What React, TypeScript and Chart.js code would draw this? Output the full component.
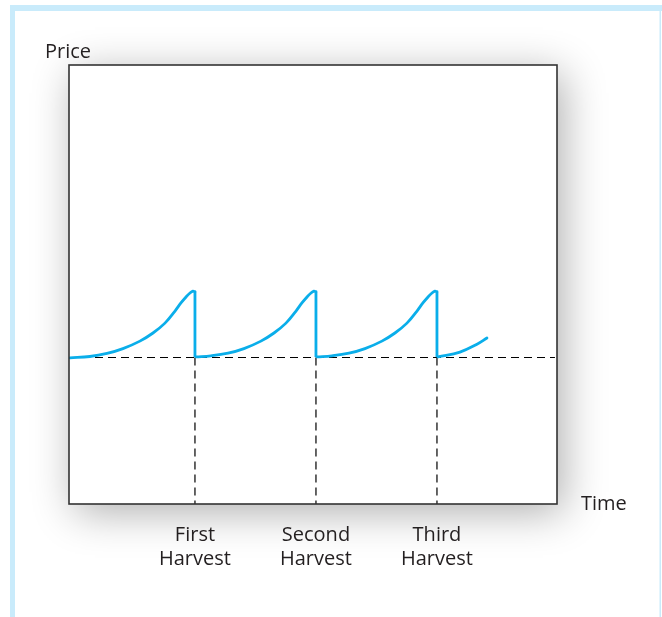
import React, { useEffect, useRef } from "react";
import { Chart, registerables } from "chart.js";

Chart.register(...registerables);

// ---- data (time in harvest periods, price in arbitrary units) ----
const X_MIN = -0.041;
const X_MAX = 3.992;
const Y_MIN = 0;
const Y_MAX = 100;
const BASE_PRICE = 33.37;

const HARVEST_TIMES = [1, 2, 3];
const HARVEST_LABELS = [["First", "Harvest"], ["Second", "Harvest"], ["Third", "Harvest"]];

const cycle1X = [-0.033, 0.132, 0.273, 0.405, 0.545, 0.653, 0.752, 0.835, 0.884, 0.926, 0.959, 0.983, 1.0];
const cycle1Y = [33.3, 33.6, 34.3, 35.4, 37.1, 38.95, 41.2, 43.96, 45.79, 47.16, 48.06, 48.47, 48.36];
const cycle2X = [1.008, 1.132, 1.273, 1.405, 1.545, 1.653, 1.752, 1.835, 1.884, 1.926, 1.959, 1.983, 2.0];
const cycle2Y = [33.5, 33.75, 34.35, 35.4, 37.1, 38.95, 41.2, 43.96, 45.79, 47.16, 48.06, 48.47, 48.36];
const cycle3X = [2.008, 2.132, 2.273, 2.405, 2.545, 2.653, 2.752, 2.835, 2.884, 2.926, 2.959, 2.983, 3.0];
const cycle3Y = [33.5, 33.75, 34.35, 35.4, 37.1, 38.95, 41.2, 43.96, 45.79, 47.16, 48.06, 48.47, 48.36];
const tailX = [3.008, 3.19, 3.331, 3.413];
const tailY = [33.5, 34.6, 36.4, 37.8];
const dropTop = 48.36;
const dropBottom = 33.5;
const BASELINE_END_X = 3.975;

const Y_AXIS_LABEL = "Price";
const X_AXIS_LABEL = "Time";

const CURVE_COLOR = "#0aaeea";
const DASH_COLOR = "#000000";
const TEXT_COLOR = "#231f20";
const FRAME_COLOR = "#c9ebfb";
const FONT = "'Open Sans', 'Noto Sans', sans-serif";

const toPts = (xs: number[], ys: number[]) => xs.map((x, i) => ({ x, y: ys[i] }));

const decorPlugin = {
  id: "decor",
  beforeDraw(chart: any) {
    const { ctx, chartArea: a, width, height } = chart;
    ctx.save();
    ctx.fillStyle = "#ffffff";
    ctx.fillRect(0, 0, width, height);
    // light blue page frame
    ctx.fillStyle = FRAME_COLOR;
    ctx.fillRect(10, 5, width - 10, 6);
    ctx.fillRect(10, 5, 5, height - 5);
    ctx.fillRect(659.5, 11, 1.5, height - 11);
    // box with shadow
    ctx.shadowColor = "rgba(0,0,0,0.32)";
    ctx.shadowBlur = 40;
    ctx.shadowOffsetX = 6;
    ctx.shadowOffsetY = 8;
    ctx.fillStyle = "#ffffff";
    ctx.fillRect(a.left, a.top, a.right - a.left, a.bottom - a.top);
    ctx.restore();
  },
  afterDraw(chart: any) {
    const { ctx, chartArea: a } = chart;
    ctx.save();
    ctx.strokeStyle = "#333333";
    ctx.lineWidth = 1.6;
    ctx.strokeRect(a.left, a.top, a.right - a.left, a.bottom - a.top);
    ctx.fillStyle = TEXT_COLOR;
    ctx.font = `20px ${FONT}`;
    ctx.textAlign = "left";
    ctx.textBaseline = "alphabetic";
    ctx.fillText(Y_AXIS_LABEL, 45, 58);
    ctx.fillText(X_AXIS_LABEL, 581, 510);
    ctx.restore();
  },
};

export default function App() {
  const ref = useRef<HTMLCanvasElement | null>(null);
  useEffect(() => {
    if (!ref.current) return;
    const curve = (data: any[]) => ({
      data,
      borderColor: CURVE_COLOR,
      borderWidth: 2.8,
      pointRadius: 0,
      tension: 0.4,
      borderCapStyle: "round" as const,
      borderJoinStyle: "round" as const,
      fill: false,
      order: 1,
    });
    const straight = (data: any[]) => ({
      data,
      borderColor: CURVE_COLOR,
      borderWidth: 2.8,
      pointRadius: 0,
      tension: 0,
      borderCapStyle: "butt" as const,
      fill: false,
      order: 1,
    });
    const dashed = (data: any[]) => ({
      data,
      borderColor: DASH_COLOR,
      borderWidth: 1.2,
      borderDash: [8, 5],
      pointRadius: 0,
      tension: 0,
      fill: false,
      order: 2,
    });
    const datasets: any[] = [
      dashed([{ x: X_MIN, y: BASE_PRICE }, { x: BASELINE_END_X, y: BASE_PRICE }]),
      ...HARVEST_TIMES.map((t) => dashed([{ x: t, y: BASE_PRICE }, { x: t, y: Y_MIN }])),
      curve(toPts(cycle1X, cycle1Y)),
      curve(toPts(cycle2X, cycle2Y)),
      curve(toPts(cycle3X, cycle3Y)),
      curve(toPts(tailX, tailY)),
      ...HARVEST_TIMES.map((t) => straight([{ x: t, y: dropTop }, { x: t, y: dropBottom }])),
    ];
    const chart = new Chart(ref.current, {
      type: "line",
      data: { datasets },
      plugins: [decorPlugin],
      options: {
        animation: false,
        responsive: false,
        maintainAspectRatio: false,
        layout: { padding: { left: 69, right: 105, top: 65, bottom: 0 } },
        plugins: { legend: { display: false }, tooltip: { enabled: false }, title: { display: false } },
        scales: {
          x: {
            type: "linear",
            min: X_MIN,
            max: X_MAX,
            grid: { display: false, drawTicks: false },
            border: { display: false },
            afterBuildTicks: (scale: any) => {
              scale.ticks = HARVEST_TIMES.map((v) => ({ value: v }));
            },
            afterFit: (scale: any) => {
              scale.height = 113;
            },
            ticks: {
              autoSkip: false,
              maxRotation: 0,
              minRotation: 0,
              padding: 19,
              color: TEXT_COLOR,
              font: { family: FONT, size: 20, lineHeight: 1.2 },
              callback: (_v: any, i: number) => HARVEST_LABELS[i],
            },
          },
          y: {
            type: "linear",
            min: Y_MIN,
            max: Y_MAX,
            display: false,
          },
        },
      },
    });
    return () => chart.destroy();
  }, []);
  return (
    <div style={{ position: "absolute", left: 0, top: 0, width: 662, height: 617 }}>
      <canvas ref={ref} width={662} height={617} style={{ display: "block" }} />
    </div>
  );
}
